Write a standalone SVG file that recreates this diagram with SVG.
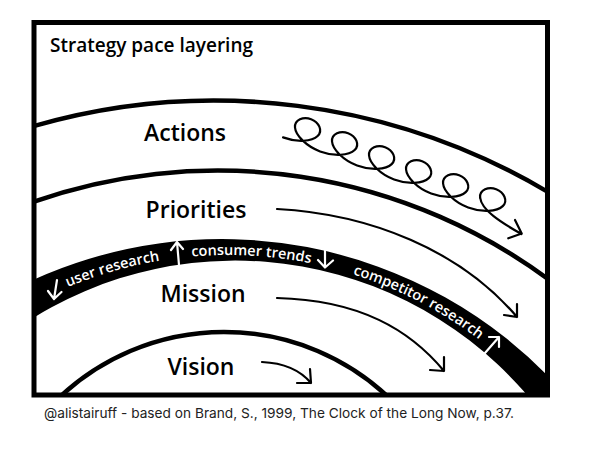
<svg xmlns="http://www.w3.org/2000/svg" width="591" height="452" viewBox="0 0 591 452">
<defs>
<clipPath id="inner"><rect x="34" y="22.5" width="513.5" height="372.5"/></clipPath>
<path id="bandBase" d="M0,323.2 A415,415 0 0 1 591,468.9"/>
</defs>
<style>
.arc{fill:none;stroke:#000;stroke-width:4.5}
.lbl{font-family:"Open Sans","Liberation Sans",sans-serif;font-weight:600;font-size:23px;fill:#000;text-anchor:middle}
.band{font-family:"Open Sans","Liberation Sans",sans-serif;font-weight:600;font-size:14.5px;fill:#fff}
.wa{fill:none;stroke:#fff;stroke-width:2.2;stroke-linecap:round;stroke-linejoin:round}
.ba{fill:none;stroke:#000;stroke-width:2.2;stroke-linecap:round;stroke-linejoin:round}
</style>
<rect width="591" height="452" fill="#fff"/>
<g id="layers" clip-path="url(#inner)">
<path class="arc" d="M20,130.2 A654,654 0 0 1 560,199.3"/>
<path class="arc" d="M20,206.7 A557.2,557.2 0 0 1 560,288.1"/>
<path id="band" fill="#000" d="M20,286.1 A456.9,456.9 0 0 1 560,388.7 L560,420 L546.6,420 A384.2,384.2 0 0 0 20,326.4 Z"/>
<path class="arc" d="M56.6,400 A240,240 0 0 1 391.4,400"/>
</g>
<rect id="frame" x="34" y="22.5" width="513.5" height="372.5" fill="none" stroke="#000" stroke-width="5"/>
<text id="title" x="50" y="52" font-family="Open Sans, Liberation Sans, sans-serif" font-weight="600" font-size="19">Strategy pace layering</text>
<g id="actions"><text class="lbl" x="185" y="141">Actions</text></g>
<g id="priorities"><text class="lbl" x="196" y="218">Priorities</text></g>
<g id="mission"><text class="lbl" x="203" y="302">Mission</text></g>
<g id="vision"><text class="lbl" x="201" y="375">Vision</text></g>
<g id="band-labels">
<text class="band"><textPath href="#bandBase" startOffset="77">user research</textPath></text>
<text class="band"><textPath href="#bandBase" startOffset="205">consumer trends</textPath></text>
<text class="band"><textPath href="#bandBase" startOffset="368">competitor research</textPath></text>
</g>
<g id="connectors">
<path class="ba" transform="translate(297.07,128.28) rotate(20.73)" d="M-9.9,13.5 C4.92,13.5 18.70,7.07 22,0 C25.30,-7.07 18.12,-13.5 9.90,-13.5 C1.68,-13.5 -5.51,-7.07 -2.21,0 C1.09,7.07 14.87,13.5 29.69,13.5 C44.50,13.5 58.28,7.07 61.58,0 C64.88,-7.07 57.70,-13.5 49.48,-13.5 C41.26,-13.5 34.07,-7.07 37.37,0 C40.67,7.07 54.45,13.5 69.27,13.5 C84.08,13.5 97.86,7.07 101.16,0 C104.46,-7.07 97.28,-13.5 89.06,-13.5 C80.84,-13.5 73.65,-7.07 76.95,0 C80.25,7.07 94.03,13.5 108.85,13.5 C123.66,13.5 137.44,7.07 140.74,0 C144.04,-7.07 136.86,-13.5 128.64,-13.5 C120.42,-13.5 113.23,-7.07 116.53,0 C119.83,7.07 133.61,13.5 148.43,13.5 C163.24,13.5 177.02,7.07 180.32,0 C183.62,-7.07 176.44,-13.5 168.22,-13.5 C160.00,-13.5 152.81,-7.07 156.11,0 C159.41,7.07 173.19,13.5 188.01,13.5 C202.82,13.5 216.60,7.07 219.90,0 C223.20,-7.07 216.02,-13.5 207.80,-13.5 C199.58,-13.5 192.39,-7.07 195.69,0"/>
<path class="ba" d="M480.1,197.5 C481.5,210 500,222 521.5,234 M515,220 L521.7,233.5 L508.3,238.3"/>
<path class="ba" d="M277,209 C370,214 460,250 517,317 M517,304 L517,317 L504,315"/>
<path class="ba" d="M277,298 C360,300 410,330 444,371 M444,357 L444,371 L430,370"/>
<path class="ba" d="M262,362 C285,363 300,370 311,383 M310,369 L311,383 L297,383"/>
<path class="wa" d="M57,280 L54,299 M48,291 L54,299 L61.5,292"/>
<path class="wa" d="M179,265 L177,242 M171,250 L177,242 L183,249"/>
<path class="wa" d="M325,247 L325,267 M318,260 L325,267.5 L333,260.5"/>
<path class="wa" d="M485,353 L499,337 M489,337 L499,337 L499,347"/>
</g>
<text id="credit" x="44" y="418" font-family="Inter, Liberation Sans, sans-serif" font-size="13.7" fill="#222">@alistairuff - based on Brand, S., 1999, The Clock of the Long Now, p.37.</text>
</svg>
